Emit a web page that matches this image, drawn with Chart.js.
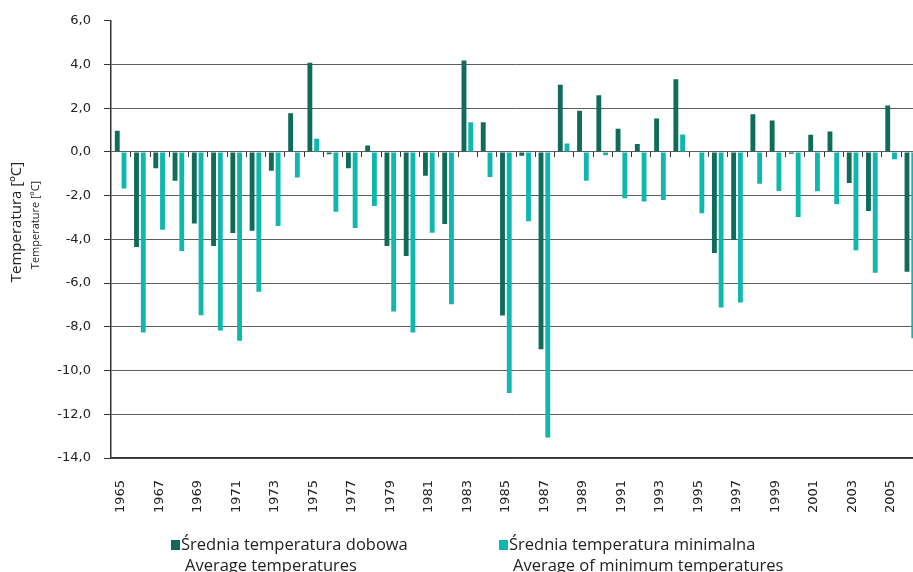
<!DOCTYPE html>
<html lang="pl">
<head>
  <meta charset="UTF-8">
  <title>Temperatura 1965-2006</title>
  <script src="https://cdn.jsdelivr.net/npm/chart.js"></script>
  <style>
    html, body { margin: 0; padding: 0; background: #fff; overflow: hidden; }
    canvas { display: block; }
  </style>
</head>
<body>
  <canvas id="chart" width="920" height="572"></canvas>

  <script>
    const years = ['1965','1966','1967','1968','1969','1970','1971','1972','1973','1974',
      '1975','1976','1977','1978','1979','1980','1981','1982','1983','1984',
      '1985','1986','1987','1988','1989','1990','1991','1992','1993','1994',
      '1995','1996','1997','1998','1999','2000','2001','2002','2003','2004',
      '2005','2006'];

    // Średnia temperatura dobowa / Average temperatures
    const avgTemp = [0.97, -4.35, -0.74, -1.32, -3.27, -4.30, -3.71, -3.61, -0.86, 1.77,
      4.08, -0.10, -0.74, 0.30, -4.30, -4.76, -1.09, -3.30, 4.18, 1.36,
      -7.48, -0.17, -9.02, 3.08, 1.89, 2.59, 1.06, 0.36, 1.53, 3.33,
      0.03, -4.62, -4.03, 1.73, 1.44, -0.08, 0.79, 0.94, -1.42, -2.70,
      2.12, -5.48];

    // Średnia temperatura minimalna / Average of minimum temperatures
    const minTemp = [-1.67, -8.26, -3.56, -4.53, -7.47, -8.17, -8.64, -6.39, -3.39, -1.17,
      0.61, -2.73, -3.48, -2.47, -7.30, -8.26, -3.70, -6.97, 1.36, -1.14,
      -11.03, -3.17, -13.06, 0.39, -1.32, -0.15, -2.12, -2.27, -2.20, 0.80,
      -2.80, -7.12, -6.89, -1.45, -1.79, -2.98, -1.80, -2.39, -4.50, -5.53,
      -0.33, -8.52];

    const yMin = -14, yMax = 6, yStep = 2;

    const darkGreen = '#0f6b5a';
    const cyan = '#10b7af';

    // small ticks on the zero line between categories + y title + legend
    const extras = {
      id: 'extras',
      afterDatasetsDraw(chart) {
        const ctx = chart.ctx;
        const x = chart.scales.x, y = chart.scales.y;
        const y0 = y.getPixelForValue(0);
        const half = (x.getPixelForValue(1) - x.getPixelForValue(0)) / 2;
        ctx.save();
        ctx.strokeStyle = '#333';
        ctx.lineWidth = 1;
        for (let i = 0; i < years.length; i++) {
          const px = Math.round(x.getPixelForValue(i) + half) + 0.5;
          ctx.beginPath();
          ctx.moveTo(px, y0);
          ctx.lineTo(px, y0 + 5);
          ctx.stroke();
        }
        ctx.restore();
      },
      afterDraw(chart) {
        const ctx = chart.ctx;
        ctx.save();
        // axis title
        ctx.fillStyle = '#222';
        ctx.textAlign = 'center';
        ctx.textBaseline = 'middle';
        ctx.translate(17, 222);
        ctx.rotate(-Math.PI / 2);
        ctx.font = '15px "Open Sans"';
        ctx.fillText('Temperatura [ºC]', 0, 0);
        ctx.font = '11px "Open Sans"';
        ctx.fillText('Temperature [ºC]', -3, 19);
        ctx.restore();

        // legend
        ctx.save();
        const items = [
          { x: 171, ds: chart.data.datasets[0] },
          { x: 499, ds: chart.data.datasets[1] }
        ];
        ctx.textBaseline = 'middle';
        ctx.textAlign = 'left';
        ctx.font = '16.5px "Open Sans"';
        items.forEach(it => {
          ctx.fillStyle = it.ds.backgroundColor;
          ctx.fillRect(it.x, 540, 9, 10);
          ctx.fillStyle = '#222';
          ctx.fillText(it.ds.label[0], it.x + 10, 545);
          ctx.fillText(it.ds.label[1], it.x + 14, 566);
        });
        ctx.restore();
      }
    };

    new Chart(document.getElementById('chart'), {
      type: 'bar',
      data: {
        labels: years,
        datasets: [
          {
            label: ['Średnia temperatura dobowa', 'Average temperatures'],
            data: avgTemp,
            backgroundColor: darkGreen,
            categoryPercentage: 0.7,
            barPercentage: 0.72
          },
          {
            label: ['Średnia temperatura minimalna', 'Average of minimum temperatures'],
            data: minTemp,
            backgroundColor: cyan,
            categoryPercentage: 0.7,
            barPercentage: 0.72
          }
        ]
      },
      options: {
        responsive: false,
        animation: false,
        layout: { padding: { top: 19, right: 0, bottom: 0, left: 0 } },
        plugins: {
          legend: { display: false },
          tooltip: { enabled: false }
        },
        scales: {
          x: {
            grid: { display: false },
            border: { display: true, color: '#333', width: 1.5 },
            ticks: {
              autoSkip: false,
              minRotation: 90,
              maxRotation: 90,
              padding: 14,
              color: '#222',
              font: { family: 'DejaVu Sans', size: 13 },
              callback: (v, i) => (i % 2 === 0 ? years[i] : '')
            },
            afterFit: s => {
              s.height = 114;
              s.paddingLeft = 0;
              s.paddingRight = 0;
            }
          },
          y: {
            min: yMin,
            max: yMax,
            grid: {
              color: ctx => (ctx.tick && ctx.tick.value === yMax ? 'rgba(0,0,0,0)' : '#5e5e5e'),
              tickColor: '#333',
              tickLength: 7,
              lineWidth: 1
            },
            border: { display: true, color: '#333', width: 1.5 },
            ticks: {
              stepSize: yStep,
              padding: 13,
              color: '#222',
              font: { family: 'DejaVu Sans', size: 13 },
              callback: v => v.toFixed(1).replace('.', ',')
            },
            afterFit: s => { s.width = 111; }
          }
        }
      },
      plugins: [extras]
    });
  </script>
</body>
</html>
